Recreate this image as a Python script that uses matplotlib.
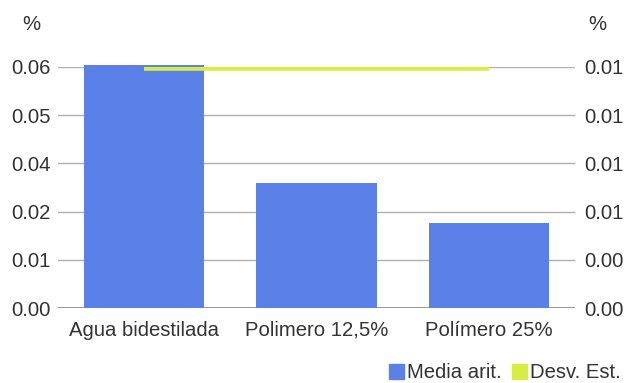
import matplotlib
matplotlib.use("Agg")
import matplotlib.pyplot as plt
from matplotlib.patches import Patch

categories = ["Agua bidestilada", "Polimero 12,5%", "Polímero 25%"]
media_arit = [0.0630, 0.0324, 0.0220]
desv_est = [0.01245, 0.01245, 0.01245]

left_ticks = [0, 0.0125, 0.025, 0.0375, 0.05, 0.0625]
left_labels = ["0.00", "0.01", "0.02", "0.04", "0.05", "0.06"]
right_ticks = [0, 0.0025, 0.005, 0.0075, 0.01, 0.0125]
right_labels = ["0.00", "0.00", "0.01", "0.01", "0.01", "0.01"]

blue = "#5b80e8"
yellow = "#d8ec42"
text_color = "#333333"
grid_color = "#b0b0b0"

plt.rcParams["font.family"] = ["Liberation Sans", "DejaVu Sans"]
fs = 14.6

fig = plt.figure(figsize=(6.25, 3.83), dpi=100)
ax = fig.add_axes([58 / 625, 1 - 308 / 383, 517 / 625, 241 / 383])
ax2 = ax.twinx()

x = range(len(categories))
bars = ax.bar(x, media_arit, width=0.70, color=blue, zorder=2)
for b in bars:
    b.set_clip_on(False)
ax.set_xlim(-0.5, 2.5)
ax.set_ylim(0, 0.0625)
ax.set_yticks(left_ticks)
ax.set_yticklabels(left_labels)
ax.set_xticks(list(x))
ax.set_xticklabels(categories)
ax.grid(axis="y", color=grid_color, linewidth=1, zorder=0)
ax.set_axisbelow(True)
ax.tick_params(axis="both", length=0, labelsize=fs, labelcolor=text_color)
ax.tick_params(axis="y", pad=5)
ax.tick_params(axis="x", pad=9)
for s in ax.spines.values():
    s.set_visible(False)
ax.axhline(0, color="#888888", linewidth=1.2, zorder=1)

ax2.plot(list(x), desv_est, color=yellow, linewidth=4.0, solid_capstyle="butt", zorder=3)
ax2.set_ylim(0, 0.0125)
ax2.set_yticks(right_ticks)
ax2.set_yticklabels(right_labels)
ax2.tick_params(axis="y", length=0, labelsize=fs, labelcolor=text_color, pad=7)
for s in ax2.spines.values():
    s.set_visible(False)

fig.text(31 / 625, 1 - 25 / 383, "%", fontsize=fs, color=text_color, ha="center", va="center")
fig.text(597 / 625, 1 - 25 / 383, "%", fontsize=fs, color=text_color, ha="center", va="center")

handles = [Patch(color=blue), Patch(color=yellow)]
fig.legend(handles, ["Media arit.", "Desv. Est."], loc="lower right",
           bbox_to_anchor=(621 / 625, 0.002), ncol=2, frameon=False, fontsize=fs,
           borderpad=0, borderaxespad=0,
           handlelength=0.75, handleheight=0.75, handletextpad=0.15,
           columnspacing=0.5, labelcolor=text_color)

fig.savefig("out.png", dpi=100)
